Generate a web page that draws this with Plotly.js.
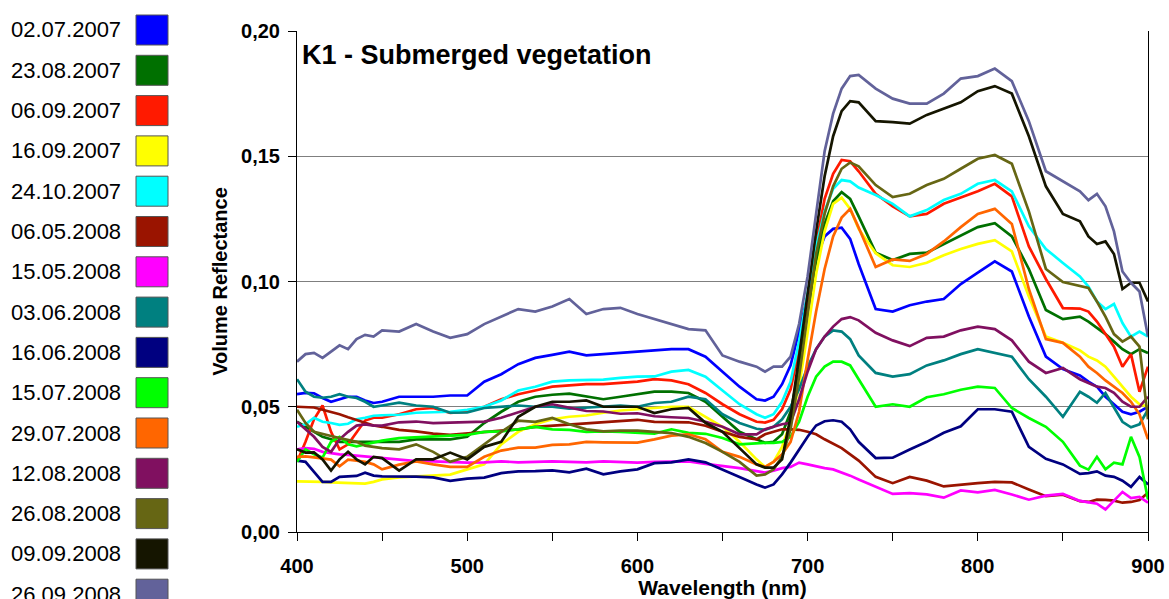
<!DOCTYPE html>
<html>
<head>
<meta charset="utf-8">
<script src="https://cdn.plot.ly/plotly-3.0.1.min.js"></script>
<style>
html,body{margin:0;padding:0;background:#fff;}
#chart{width:1169px;height:599px;}
</style>
</head>
<body>
<div id="chart"></div>
<script>
// Wavelength grid (nm)
const wavelength = [
  400,405,410,415,420,425,430,435,440,445,450,
  460,470,480,490,500,510,520,530,540,550,560,570,580,590,600,610,620,630,640,650,660,670,
  675,680,685,690,695,700,705,710,715,720,725,730,
  740,750,760,770,780,790,800,810,820,830,840,850,860,
  865,870,875,880,885,890,895,900
];

// Series names (legend) and colours
const seriesNames = ["02.07.2007","23.08.2007","06.09.2007","16.09.2007","24.10.2007","06.05.2008","15.05.2008","03.06.2008","16.06.2008","15.07.2008","29.07.2008","12.08.2008","26.08.2008","09.09.2008","26.09.2008"];
const seriesColors = ["#0000FF","#007000","#FF1A00","#FFFF00","#00FFFF","#9A1400","#FF00FF","#008080","#000080","#00FF00","#FF6600","#801060","#666614","#151500","#62629A"];

// Volume reflectance values
const r02072007 = [.055,.0555,.0554,.0535,.052,.053,.054,.054,.0525,.0515,.052,
 .054,.054,.054,.0545,.0545,.060,.063,.067,.0695,.0707,.072,.0705,.071,.0715,.072,.0725,.073,.073,.070,.064,.058,.053,
 .0525,.054,.059,.0665,.080,.094,.109,.118,.121,.1215,.117,.107,
 .089,.088,.0905,.092,.093,.099,.1035,.108,.104,.086,.070,.065,.0625,
 .060,.058,.054,.051,.048,.047,.048,.050];
const r23082007 = [.044,.042,.040,.038,.037,.036,.036,.036,.036,.036,.036,
 .036,.037,.037,.037,.038,.0435,.048,.052,.054,.0548,.0552,.054,.053,.054,.055,.056,.056,.0555,.052,.046,.040,.037,
 .0356,.036,.039,.048,.065,.088,.108,.123,.132,.1357,.133,.126,
 .1115,.1086,.111,.1115,.115,.1185,.1217,.1233,.118,.105,.0886,.085,.086,
 .084,.0815,.079,.076,.073,.071,.073,.0715];
const r06092007 = [.028,.036,.045,.0505,.040,.033,.035,.040,.0445,.0456,.0456,
 .047,.049,.0495,.0475,.048,.050,.053,.055,.0565,.058,.0585,.059,.059,.0595,.060,.061,.0605,.059,.0555,.051,.047,.044,
 .0437,.0448,.049,.057,.073,.093,.115,.133,.143,.1485,.148,.144,
 .135,.130,.126,.127,.131,.1335,.136,.139,.134,.114,.101,.0894,.0892,
 .088,.084,.079,.074,.066,.071,.056,.066];
const r16092007 = [.0202,.0202,.0202,.020,.0198,.0197,.0195,.0193,.0193,.020,.021,
 .0218,.0222,.0223,.0229,.025,.027,.035,.040,.043,.045,.046,.0465,.0476,.0485,.049,.0495,.050,.050,.046,.042,.036,.029,
 .026,.028,.034,.044,.058,.0795,.103,.120,.131,.1335,.129,.121,
 .1113,.1065,.1058,.1075,.1105,.113,.115,.1165,.112,.094,.078,.0755,.0725,
 .070,.0685,.066,.062,.058,.054,.051,.050];
const r24102007 = [.042,.043,.0456,.044,.0435,.0428,.0432,.045,.0456,.0464,.0466,
 .0468,.0476,.0477,.048,.0488,.050,.0525,.0565,.058,.060,.0605,.0608,.0608,.0615,.062,.0621,.064,.0647,.062,.0565,.051,.047,
 .0456,.047,.052,.060,.076,.0954,.114,.128,.137,.1405,.140,.1375,
 .1345,.131,.126,.1285,.1325,.135,.139,.1405,.136,.122,.113,.1074,.102,
 .098,.092,.089,.091,.0834,.078,.080,.078];
const r06052008 = [.050,.050,.0497,.0488,.048,.047,.0458,.0448,.0435,.0425,.042,
 .0408,.0402,.0393,.0388,.0393,.040,.0405,.041,.042,.0425,.043,.0436,.044,.0445,.0448,.044,.044,.0438,.0424,.040,.038,.037,
 .039,.040,.041,.041,.0408,.040,.039,.037,.0352,.0335,.031,.0285,
 .022,.0195,.022,.0205,.0182,.019,.0195,.020,.0198,.017,.0143,.0149,.0123,
 .012,.0129,.0128,.0125,.0117,.012,.0128,.0157];
const r15052008 = [.033,.0335,.0332,.032,.0315,.031,.0308,.0305,.0302,.030,.0296,
 .029,.0283,.0282,.0278,.0277,.0278,.0282,.0278,.028,.0282,.028,.0278,.0282,.028,.0277,.028,.0282,.0282,.0272,.0265,.0255,.0243,
 .0237,.0245,.0255,.026,.0277,.027,.0262,.0255,.025,.0238,.0225,.021,
 .0182,.0152,.0155,.015,.0137,.0166,.0158,.0168,.015,.0129,.0145,.0152,.0124,
 .0118,.0113,.009,.0127,.016,.0135,.014,.0117];
const r03062008 = [.061,.056,.054,.0536,.054,.055,.054,.0535,.052,.050,.0505,
 .0516,.0505,.050,.0476,.0477,.0495,.050,.0505,.050,.050,.0492,.0496,.0498,.0505,.050,.0515,.052,.054,.053,.047,.0435,.0412,
 .0408,.042,.045,.050,.057,.066,.073,.078,.0805,.080,.077,.0705,
 .0635,.062,.063,.0665,.0685,.071,.073,.0715,.070,.061,.054,.046,.056,
 .054,.0516,.0555,.050,.044,.0418,.043,.0488];
const r16062008 = [.0285,.028,.024,.020,.020,.022,.0222,.0224,.0237,.0225,.0222,
 .0222,.0221,.0218,.0204,.0213,.0217,.0235,.0242,.0243,.0246,.0238,.0253,.023,.0242,.025,.0275,.0278,.029,.0278,.025,.022,.019,
 .0177,.019,.023,.0277,.033,.038,.0425,.0442,.0446,.044,.041,.036,
 .0295,.0297,.0329,.036,.0396,.0422,.049,.049,.048,.034,.0292,.027,.0232,
 .0235,.0242,.0225,.022,.0205,.018,.022,.019];
const r15072008 = [.028,.033,.031,.0297,.036,.038,.035,.0342,.035,.0358,.0365,
 .0375,.0378,.0382,.0383,.0388,.040,.0402,.041,.042,.041,.0408,.040,.0402,.040,.0398,.0393,.041,.0396,.0392,.0375,.035,.0355,
 .0356,.0356,.036,.038,.044,.054,.062,.066,.068,.068,.0665,.061,
 .050,.051,.050,.0538,.055,.0568,.058,.0575,.0495,.0455,.042,.036,.0265,
 .0249,.030,.025,.0277,.027,.038,.030,.013];
const r29072008 = [.030,.0302,.0298,.0294,.0289,.0262,.0289,.0285,.028,.027,.025,
 .0269,.0282,.027,.026,.026,.030,.0325,.0337,.0337,.0348,.035,.036,.0358,.0357,.0357,.037,.0385,.039,.037,.032,.030,.027,
 .026,.028,.031,.036,.048,.0687,.088,.105,.118,.1255,.129,.1215,
 .1058,.1088,.1082,.111,.116,.1217,.127,.129,.123,.097,.077,.0755,.070,
 .066,.0635,.0605,.058,.0555,.052,.047,.037];
const r12082008 = [.044,.041,.038,.034,.032,.037,.040,.0425,.043,.0425,.0425,
 .0438,.0441,.0435,.0438,.0438,.0441,.0456,.0478,.050,.051,.0497,.0483,.0481,.0472,.0474,.0462,.0458,.0455,.044,.042,.039,.039,
 .041,.042,.043,.0436,.053,.064,.073,.078,.082,.085,.0858,.0845,
 .0795,.0765,.0742,.0775,.078,.0805,.082,.081,.0765,.068,.0635,.0655,.061,
 .0595,.058,.0575,.0556,.052,.050,.050,.054];
const r26082008 = [.0488,.0435,.040,.039,.0383,.0375,.0368,.036,.0345,.034,.0335,
 .033,.035,.032,.028,.030,.035,.040,.0445,.044,.0455,.043,.041,.0402,.0405,.0405,.040,.0395,.038,.0355,.032,.028,.0225,
 .023,.025,.030,.041,.062,.087,.111,.127,.138,.145,.1475,.146,
 .1385,.1337,.135,.1385,.141,.145,.149,.1505,.147,.128,.105,.0998,.098,
 .0974,.092,.086,.079,.076,.078,.074,.045];
const r09092008 = [.033,.0317,.0318,.029,.0245,.029,.032,.029,.027,.030,.0295,
 .0245,.029,.029,.0317,.029,.034,.036,.046,.050,.052,.052,.0525,.050,.050,.050,.0475,.049,.0495,.0436,.040,.0335,.027,
 .0257,.0257,.029,.046,.070,.095,.120,.142,.158,.168,.172,.1715,
 .164,.1636,.163,.1665,.169,.1715,.176,.178,.175,.158,.138,.127,.124,
 .118,.115,.116,.111,.097,.0995,.0995,.092];
const r26092008 = [.068,.071,.0715,.0695,.072,.0745,.073,.077,.0787,.078,.0805,
 .080,.083,.080,.0775,.079,.083,.086,.089,.088,.090,.093,.087,.089,.0895,.087,.085,.083,.081,.0805,.0705,.068,.066,
 .064,.066,.066,.070,.083,.102,.127,.152,.167,.177,.182,.1825,
 .177,.173,.171,.171,.175,.181,.182,.185,.180,.164,.144,.140,.136,
 .1325,.135,.130,.120,.104,.0995,.096,.078];

const seriesValues = [r02072007,r23082007,r06092007,r16092007,r24102007,r06052008,r15052008,r03062008,r16062008,r15072008,r29072008,r12082008,r26082008,r09092008,r26092008];

// axis ticks
const xTickVals = [400,450,500,550,600,650,700,750,800,850,900];
const xTickText = ["400","","500","","600","","700","","800","","900"];
const yTickVals = [0,0.05,0.10,0.15,0.20];
const yTickText = ["0,00","0,05","0,10","0,15","0,20"];

const FONT = "'Liberation Sans', Arial, Helvetica, sans-serif";
const W = 1169, H = 599;
const M = {l:297, r:21, t:31, b:67};
const PW = W - M.l - M.r, PH = H - M.t - M.b;
const px2x = px => (px - M.l) / PW;
const px2y = py => (H - M.b - py) / PH;

const traces = seriesNames.map((name, i) => ({
  type: 'scatter', mode: 'lines', name: name,
  x: wavelength, y: seriesValues[i],
  line: {color: seriesColors[i], width: 2.7},
  showlegend: false, hoverinfo: 'x+y+name'
}));

// custom legend (label left, colour square right)
const shapes = [], annotations = [];
seriesNames.forEach((name, i) => {
  const cy = 30 + i * 40.3;
  shapes.push({type:'rect', xref:'paper', yref:'paper',
    x0: px2x(136), x1: px2x(168), y0: px2y(cy + 15), y1: px2y(cy - 15),
    fillcolor: seriesColors[i], line: {color: '#555555', width: 1}});
  annotations.push({xref:'paper', yref:'paper', x: px2x(9), y: px2y(cy),
    xanchor:'left', yanchor:'middle', showarrow:false, text: name,
    font:{family: FONT, size: 22, color:'#000'}});
});

const layout = {
  width: W, height: H,
  margin: M,
  paper_bgcolor: '#fff', plot_bgcolor: '#fff',
  font: {family: FONT, color: '#000'},
  title: {text: '<b>K1 - Submerged vegetation</b>', font: {family: FONT, size: 27, color: '#000'},
    xref: 'container', yref: 'container', x: 302 / W, xanchor: 'left', y: 1 - 55 / H, yanchor: 'middle'},
  xaxis: {
    range: [400, 900], tickmode: 'array', tickvals: xTickVals, ticktext: xTickText,
    ticks: 'outside', ticklen: 8, tickcolor: '#000', tickwidth: 1,
    showline: true, linecolor: '#000', linewidth: 1, showgrid: false, zeroline: false,
    tickfont: {family: FONT, size: 20, color: '#000', weight: 'bold'},
    ticklabelstandoff: 8,
    title: {text: '<b>Wavelength (nm)</b>', font: {family: FONT, size: 21, color: '#000'}, standoff: 6}
  },
  yaxis: {
    range: [0, 0.2], tickmode: 'array', tickvals: yTickVals, ticktext: yTickText,
    ticks: 'outside', ticklen: 8, tickcolor: '#000', tickwidth: 1,
    showline: true, mirror: true, linecolor: '#000', linewidth: 1,
    showgrid: true, gridcolor: '#7f7f7f', gridwidth: 1, zeroline: false,
    tickfont: {family: FONT, size: 20, color: '#000', weight: 'bold'},
    ticklabelstandoff: 4,
    title: {text: '<b>Volume Reflectance</b>', font: {family: FONT, size: 20, color: '#000'}, standoff: 8}
  },
  shapes: shapes,
  annotations: annotations
};

Plotly.newPlot('chart', traces, layout, {displayModeBar: false, staticPlot: true});
</script>
</body>
</html>
